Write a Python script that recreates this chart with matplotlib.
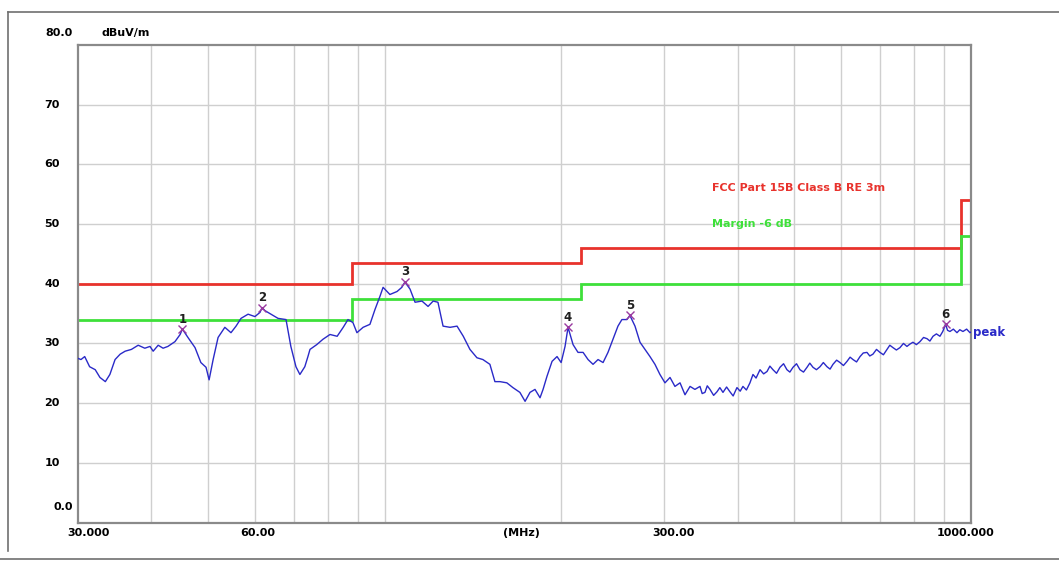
import numpy as np
import matplotlib
matplotlib.use('Agg')
import matplotlib.pyplot as plt
from matplotlib.lines import Line2D
from matplotlib.ticker import NullLocator
from matplotlib.transforms import offset_copy

# measured trace (MHz, dBuV/m)
freq = [30.0, 30.35, 30.8, 31.4, 32.1, 32.7, 33.4, 34.0, 34.7, 35.4,
        36.1, 37.0, 38.0, 39.0, 39.8, 40.3, 41.1, 41.9, 42.7, 43.9,
        44.8, 45.2, 46.2, 47.5, 48.6, 49.6, 50.2, 51.0, 52.0, 53.4,
        54.7, 55.8, 56.9, 58.5, 60.1, 61.3, 61.8, 62.5, 64.0, 65.8,
        67.9, 69.2, 70.6, 71.7, 73.1, 74.0, 74.6, 76.6, 78.5, 80.7,
        83.0, 85.0, 86.6, 88.3, 89.7, 91.9, 94.4, 96.3, 98.2, 99.4,
        102.1, 105.0, 107.0, 108.3, 110.5, 112.7, 115.8, 118.6, 121.0, 123.3,
        125.8, 129.3, 132.9, 136.2, 139.8, 143.7, 147.1, 151.2, 154.2, 157.3,
        161.6, 165.5, 170.1, 173.6, 177.0, 180.5, 184.1, 186.3, 189.2, 193.0,
        196.8, 200.0, 203.1, 205.5, 209.6, 213.7, 218.0, 222.3, 226.7, 231.2,
        235.8, 240.4, 245.1, 250.0, 253.9, 259.0, 262.0, 267.3, 272.6, 278.0,
        283.5, 289.1, 294.8, 300.7, 306.7, 312.7, 319.0, 325.3, 331.8, 338.2,
        345.0, 348.0, 351.8, 355.0, 358.8, 364.0, 368.8, 373.0, 377.6, 383.0,
        388.1, 393.0, 398.9, 404.0, 408.4, 414.0, 419.8, 424.8, 430.0, 436.7,
        443.0, 448.9, 454.0, 459.5, 466.0, 472.3, 479.0, 485.4, 491.0, 497.1,
        504.0, 510.9, 518.0, 525.2, 531.0, 537.7, 545.0, 552.7, 560.0, 568.1,
        575.0, 581.6, 590.0, 597.9, 606.0, 614.6, 622.0, 629.2, 638.0, 646.8,
        655.0, 664.6, 672.0, 680.4, 690.0, 699.4, 709.0, 718.9, 727.0, 736.1,
        746.0, 756.6, 767.0, 777.6, 787.0, 796.2, 807.0, 818.4, 830.0, 841.3,
        851.0, 861.4, 873.0, 885.2, 895.0, 905.0, 912.0, 920.7, 933.0, 946.4,
        957.0, 968.9, 983.0, 996.0, 1000.0]
level = [27.5, 27.3, 27.8, 26.1, 25.6, 24.3, 23.6, 24.8, 27.3, 28.2,
         28.7, 29.0, 29.7, 29.2, 29.5, 28.7, 29.7, 29.2, 29.5, 30.3,
         31.5, 32.4, 31.0, 29.3, 26.8, 26.0, 23.9, 27.3, 31.0, 32.7,
         31.8, 32.9, 34.2, 34.9, 34.5, 35.2, 36.0, 35.5, 34.9, 34.2,
         34.0, 29.5, 26.1, 24.8, 26.1, 27.8, 29.0, 29.8, 30.7, 31.5,
         31.2, 32.7, 34.0, 33.5, 31.8, 32.7, 33.2, 35.7, 37.9, 39.4,
         38.2, 38.7, 39.4, 40.3, 39.1, 36.9, 37.1, 36.2, 37.1, 36.9,
         32.9, 32.7, 32.9, 31.2, 29.0, 27.6, 27.3, 26.5, 23.6, 23.6,
         23.4, 22.6, 21.8, 20.3, 21.8, 22.3, 20.9, 22.3, 24.5, 27.0,
         27.8, 26.8, 29.5, 32.7, 29.8, 28.5, 28.5, 27.3, 26.5, 27.3,
         26.8, 28.5, 30.7, 32.9, 34.0, 34.0, 34.7, 32.9, 30.2, 29.0,
         27.8, 26.5, 24.8, 23.4, 24.3, 22.8, 23.4, 21.4, 22.8, 22.3,
         22.8, 21.6, 21.8, 22.9, 22.3, 21.3, 21.9, 22.6, 21.8, 22.7,
         21.9, 21.2, 22.6, 22.0, 22.8, 22.2, 23.4, 24.8, 24.2, 25.6,
         24.9, 25.3, 26.2, 25.6, 25.0, 26.0, 26.6, 25.6, 25.2, 26.0,
         26.6, 25.6, 25.2, 26.0, 26.7, 26.0, 25.6, 26.1, 26.8, 26.1,
         25.7, 26.5, 27.2, 26.8, 26.3, 27.0, 27.7, 27.3, 26.9, 27.8,
         28.4, 28.5, 27.9, 28.2, 29.0, 28.5, 28.1, 29.0, 29.7, 29.3,
         28.9, 29.3, 30.0, 29.5, 29.9, 30.2, 29.8, 30.3, 31.0, 30.8,
         30.4, 31.2, 31.6, 31.2, 32.0, 33.2, 32.2, 32.0, 32.4, 31.8,
         32.3, 32.0, 32.4, 31.8, 31.9]

# peak markers
marker_freq = [45.2, 61.8, 108.3, 205.5, 262.0, 905.0]
marker_level = [32.4, 36.0, 40.3, 32.7, 34.7, 33.2]

# FCC Part 15B class B limit, 3m
limit_edges = [30, 88, 216, 960, 1000]
limit_levels = [40, 43.5, 46, 54]
margin_db = 6

W, H = 1059, 563
fig = plt.figure(figsize=(W / 100, H / 100), dpi=100)
fig.patch.set_facecolor('white')

# page frame of the report screenshot
for (x0, y0, x1, y1) in [(8, 12, 1059, 12), (8, 12, 8, 551), (0, 559, 1059, 559)]:
    fig.add_artist(Line2D([x0 / W, x1 / W], [1 - y0 / H, 1 - y1 / H],
                          color='#707070', lw=1.2, transform=fig.transFigure))

ax = fig.add_axes([78 / W, 1 - 522.5 / H, 893 / W, 477.5 / H])
ax.set_xscale('log')
ax.set_xlim(30, 1000)
ax.set_ylim(0, 80)
ax.xaxis.set_major_locator(NullLocator())
ax.xaxis.set_minor_locator(NullLocator())
ax.yaxis.set_major_locator(NullLocator())
for s in ax.spines.values():
    s.set_color('#8a8a8a')
    s.set_linewidth(1.6)

grid_x = [40, 50, 60, 70, 80, 90, 100, 200, 300, 400, 500, 600, 700, 800, 900]
for g in grid_x:
    ax.axvline(g, color='#cfcfcf', lw=1.0, zorder=0)
for g in range(10, 80, 10):
    ax.axhline(g, color='#cfcfcf', lw=1.0, zorder=0)

# limit and margin lines
ax.stairs(limit_levels, limit_edges, baseline=None, color='#e8322c', lw=2.0, zorder=2)
ax.stairs(np.array(limit_levels) - margin_db, limit_edges, baseline=None,
          color='#3ee03a', lw=2.0, zorder=2)

# measurement trace
ax.plot(freq, level, color='#2a2ac8', lw=1.0, zorder=3)

# peak markers with numbers
ax.plot(marker_freq, marker_level, linestyle='none', marker='x', ms=6, mew=1.0,
        color='#9a3aa0', zorder=4)
for i, (f, v) in enumerate(zip(marker_freq, marker_level)):
    ax.annotate(str(i + 1), (f, v), xytext=(0, 2.5), textcoords='offset points',
                ha='center', va='bottom', fontsize=8.5, fontweight='bold', color='#202020')

bold = dict(fontsize=8, fontweight='bold', color='black')
ytr = ax.get_yaxis_transform()
xtr = ax.get_xaxis_transform()

# y tick labels
for v in range(10, 80, 10):
    ax.text(0, v, str(v), transform=offset_copy(ytr, fig, x=-26, units='dots'),
            ha='center', va='center', **bold)
ax.text(0, 80, '80.0', transform=offset_copy(ytr, fig, x=-5, y=12, units='dots'),
        ha='right', va='center', **bold)
ax.text(0, 0, '0.0', transform=offset_copy(ytr, fig, x=-5, y=16, units='dots'),
        ha='right', va='center', **bold)
ax.text(0, 80, 'dBuV/m', transform=offset_copy(ytr, fig, x=24, y=12, units='dots'),
        ha='left', va='center', **bold)

# x tick labels
x_labels = [(30, '30.000', 10), (60, '60.00', 3), (300, '300.00', 9), (1000, '1000.000', -5)]
for f, lab, dx in x_labels:
    ax.text(f, 0, lab, transform=offset_copy(xtr, fig, x=dx, y=-10, units='dots'),
            ha='center', va='center', **bold)
ax.text(0.497, 0, '(MHz)', transform=offset_copy(ax.transAxes, fig, y=-10, units='dots'),
        ha='center', va='center', **bold)

# legend-like labels
ax.text(361, 56, 'FCC Part 15B Class B RE 3m', color='#e8322c', fontsize=8,
        fontweight='bold', ha='left', va='center')
ax.text(361, 50, 'Margin -6 dB', color='#3ee03a', fontsize=8,
        fontweight='bold', ha='left', va='center')
ax.text(1000, 31.8, 'peak', transform=offset_copy(ax.transData, fig, x=2, units='dots'),
        color='#2a2ac8', fontsize=8.5, fontweight='bold', ha='left', va='center',
        clip_on=False)

fig.savefig('out.png', dpi=100, facecolor='white')
